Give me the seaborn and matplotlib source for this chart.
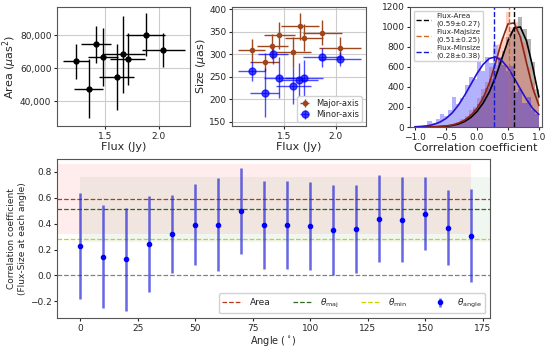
import numpy as np
import pandas as pd
import matplotlib.pyplot as plt
import matplotlib.ticker as mticker
import seaborn as sns

# --- данные ---
# Панель 1: поток и площадь
flux = [1.23, 1.35, 1.42, 1.485, 1.61, 1.67, 1.71, 1.88, 2.04]
flux_err = [0.12, 0.135, 0.14, 0.14, 0.16, 0.2, 0.165, 0.18, 0.2]
area = [64000, 47500, 74500, 66500, 54500, 68300, 65500, 80200, 71000]
area_err = [10600, 17800, 11200, 17600, 20000, 23500, 15600, 13100, 10100]

# Панель 2: размеры по осям
flux2 = [1.19, 1.317, 1.39, 1.455, 1.59, 1.654, 1.695, 1.87, 2.04]
flux2_err = [0.13, 0.14, 0.145, 0.15, 0.17, 0.18, 0.18, 0.19, 0.2]
maj_size = [309, 283, 318, 342, 304, 362, 337, 348, 313]
maj_err = [24, 20, 28, 30, 35, 30, 30, 27, 25]
flux_min = [1.19, 1.317, 1.394, 1.455, 1.59, 1.65, 1.695, 1.87, 2.04]
min_size = [263, 215, 300, 248, 230, 242, 248, 293, 289]
min_err = [22, 55, 22, 45, 40, 38, 40, 22, 15]

# Панель 3: гистограммы коэффициентов корреляции (30 бинов от -1 до 1)
n_bins = 30
cnt_area = [0, 0, 0, 0, 0, 0, 5, 10, 15, 25, 40, 60, 90, 130, 180, 230, 310, 390,
            480, 560, 700, 760, 900, 960, 1000, 1100, 980, 880, 650, 380]
cnt_maj = [0, 0, 0, 0, 0, 5, 10, 15, 20, 30, 50, 80, 110, 170, 200, 290, 380, 450,
           600, 620, 830, 900, 1150, 1000, 1050, 900, 850, 600, 450, 300]
cnt_min = [0, 0, 5, 60, 40, 80, 130, 110, 170, 300, 230, 290, 420, 500, 480, 650,
           560, 700, 640, 820, 690, 620, 560, 610, 350, 380, 240, 300, 170, 130]

curve_x = [-1.0, -0.9, -0.8, -0.7, -0.6, -0.5, -0.4, -0.3, -0.2, -0.1, 0.0,
           0.1, 0.2, 0.3, 0.4, 0.5, 0.6, 0.7, 0.8, 0.9, 1.0]
curve_area = [0, 0, 1, 2, 4, 8, 16, 30, 55, 95, 155, 240, 350, 500, 680, 860,
              990, 1000, 860, 600, 300]
curve_maj = [0, 0, 1, 2, 5, 10, 20, 38, 68, 115, 185, 290, 440, 640, 860, 1030,
             1040, 900, 640, 390, 215]
curve_min = [2, 6, 12, 25, 48, 85, 140, 218, 315, 424, 534, 626, 685, 700, 665,
             592, 490, 380, 275, 185, 125]

r_area, r_area_err = 0.59, 0.27
r_maj, r_maj_err = 0.51, 0.25
r_min, r_min_err = 0.28, 0.38

# Нижняя панель: корреляция по углу
angles = [0, 10, 20, 30, 40, 50, 60, 70, 80, 90, 100, 110, 120, 130, 140, 150, 160, 170]
r_angle = [0.225, 0.144, 0.125, 0.243, 0.32, 0.392, 0.392, 0.497, 0.392, 0.392,
           0.382, 0.353, 0.361, 0.439, 0.431, 0.478, 0.369, 0.308]
r_angle_err = [0.41, 0.40, 0.40, 0.37, 0.30, 0.315, 0.36, 0.33, 0.34, 0.34,
               0.34, 0.35, 0.34, 0.335, 0.33, 0.28, 0.29, 0.36]
band_area_x = [-10, 170]
band_maj_x = [0, 180]

# --- рисунок ---
sns.set_style("ticks")
plt.rcParams['font.family'] = ['DejaVu Sans']
fig = plt.figure(figsize=(5.5, 3.47), dpi=100)

tick_fs = 6.5
lab_fs = 8

# Панель 1
ax1 = fig.add_axes([0.1036, 0.637, 0.242, 0.343])
ax1.errorbar(flux, area, xerr=flux_err, yerr=area_err, fmt='o', color='black',
             ms=3.5, elinewidth=1.0, capsize=0)
ax1.set_xlim(1.056, 2.29)
ax1.set_ylim(25000, 97000)
ax1.set_xticks([1.5, 2.0])
ax1.set_yticks([40000, 60000, 80000])
ax1.yaxis.set_major_formatter(mticker.FuncFormatter(lambda v, p: f"{int(v):,}"))
ax1.grid(True, color='#cccccc', lw=0.8)
ax1.set_xlabel("Flux (Jy)", fontsize=lab_fs, labelpad=1)
ax1.set_ylabel(r"Area ($\mu$as$^2$)", fontsize=lab_fs, labelpad=1)

# Панель 2
ax2 = fig.add_axes([0.4218, 0.637, 0.2436, 0.343])
ax2.errorbar(flux2, maj_size, xerr=flux2_err, yerr=maj_err, fmt='o', color='#a0461c',
             ms=3, elinewidth=1.0, capsize=0, label='Major-axis')
ax2.errorbar(flux_min, min_size, xerr=flux2_err, yerr=min_err, fmt='o', color='blue',
             ms=5, elinewidth=1.0, capsize=0, alpha=0.7, label='Minor-axis')
ax2.set_xlim(1.0, 2.29)
ax2.set_ylim(141, 405)
ax2.set_xticks([1.5, 2.0])
ax2.set_yticks([150, 200, 250, 300, 350, 400])
ax2.grid(True, color='#cccccc', lw=0.8)
ax2.set_xlabel("Flux (Jy)", fontsize=lab_fs, labelpad=1)
ax2.set_ylabel(r"Size ($\mu$as)", fontsize=lab_fs, labelpad=1)
ax2.legend(loc='lower right', fontsize=6, handlelength=1.2, borderpad=0.3,
           labelspacing=0.3, framealpha=0.9)

# Панель 3
ax3 = fig.add_axes([0.7455, 0.634, 0.24, 0.346])
edges = np.linspace(-1, 1, n_bins + 1)
hist_df = pd.DataFrame({
    'r': (edges[:-1] + edges[1:]) / 2,
    'area': cnt_area, 'maj': cnt_maj, 'min': cnt_min,
})
for col, c in [('area', 'black'), ('maj', '#ff5a3c'), ('min', 'blue')]:
    sns.histplot(data=hist_df, x='r', weights=col, bins=n_bins, binrange=(-1, 1),
                 color=c, alpha=0.3, edgecolor='none', ax=ax3)
sns.lineplot(x=curve_x, y=curve_area, color='black', lw=1.2, ax=ax3)
sns.lineplot(x=curve_x, y=curve_maj, color='#8b2510', lw=1.2, ax=ax3)
sns.lineplot(x=curve_x, y=curve_min, color='#2a10d0', lw=1.2, ax=ax3)
ax3.axvline(r_area, color='black', ls='--', lw=1.0,
            label=f"Flux-Area\n({r_area:.2f}±{r_area_err:.2f})")
ax3.axvline(r_maj, color='#d2691e', ls='--', lw=1.0,
            label=f"Flux-Majsize\n({r_maj:.2f}±{r_maj_err:.2f})")
ax3.axvline(r_min, color='#1a1ad0', ls='--', lw=1.0,
            label=f"Flux-Minsize\n({r_min:.2f}±{r_min_err:.2f})")
ax3.set_xlim(-1.08, 1.05)
ax3.set_ylim(0, 1200)
ax3.set_xticks([-1.0, -0.5, 0.0, 0.5, 1.0])
ax3.set_yticks(range(0, 1201, 200))
ax3.set_ylabel("")
ax3.set_xlabel("Correlation coefficient", fontsize=lab_fs, labelpad=1)
ax3.legend(loc='upper left', fontsize=5.2, handlelength=2.0, borderpad=0.35,
           labelspacing=0.35, framealpha=0.9)

# Нижняя панель
ax4 = fig.add_axes([0.1036, 0.0836, 0.787, 0.458])
ax4.fill_between(band_area_x, r_area - r_area_err, r_area + r_area_err,
                 color='red', alpha=0.07, lw=0)
ax4.fill_between(band_maj_x, r_maj - r_maj_err, r_maj + r_maj_err,
                 color='green', alpha=0.06, lw=0)
ax4.axhline(0.0, color='gray', ls='--', lw=0.9)
ax4.axhline(r_area, color='#b03a1e', ls='--', lw=0.9, label='Area')
ax4.axhline(r_maj, color='#2e6b1e', ls='--', lw=0.9, label=r'$\theta_{\rm maj}$')
ax4.axhline(r_min, color='#c8d400', ls='--', lw=0.9, label=r'$\theta_{\rm min}$')
ax4.errorbar(angles, r_angle, yerr=r_angle_err, fmt='o', color='blue', ms=3,
             ecolor=(0.15, 0.15, 0.85, 0.7), elinewidth=1.8, capsize=0,
             label=r'$\theta_{\rm angle}$')
ax4.set_xlim(-10, 178)
ax4.set_ylim(-0.33, 0.9)
ax4.set_xticks([0, 25, 50, 75, 100, 125, 150, 175])
ax4.set_yticks([-0.2, 0.0, 0.2, 0.4, 0.6, 0.8])
ax4.set_xlabel(r"Angle ($^\circ$)", fontsize=7, labelpad=1)
ax4.set_ylabel("Correlation coefficient\n(Flux-Size at each angle)", fontsize=6.5,
               labelpad=2)
ax4.legend(loc='lower right', ncol=4, fontsize=6.5, handlelength=2.2,
           columnspacing=2.5, borderpad=0.4, framealpha=0.9)

for ax in (ax1, ax2, ax3, ax4):
    ax.tick_params(labelsize=tick_fs, length=2.5, pad=1.5)
    for s in ax.spines.values():
        s.set_color('#555555')

fig.savefig("out.png", dpi=100)
